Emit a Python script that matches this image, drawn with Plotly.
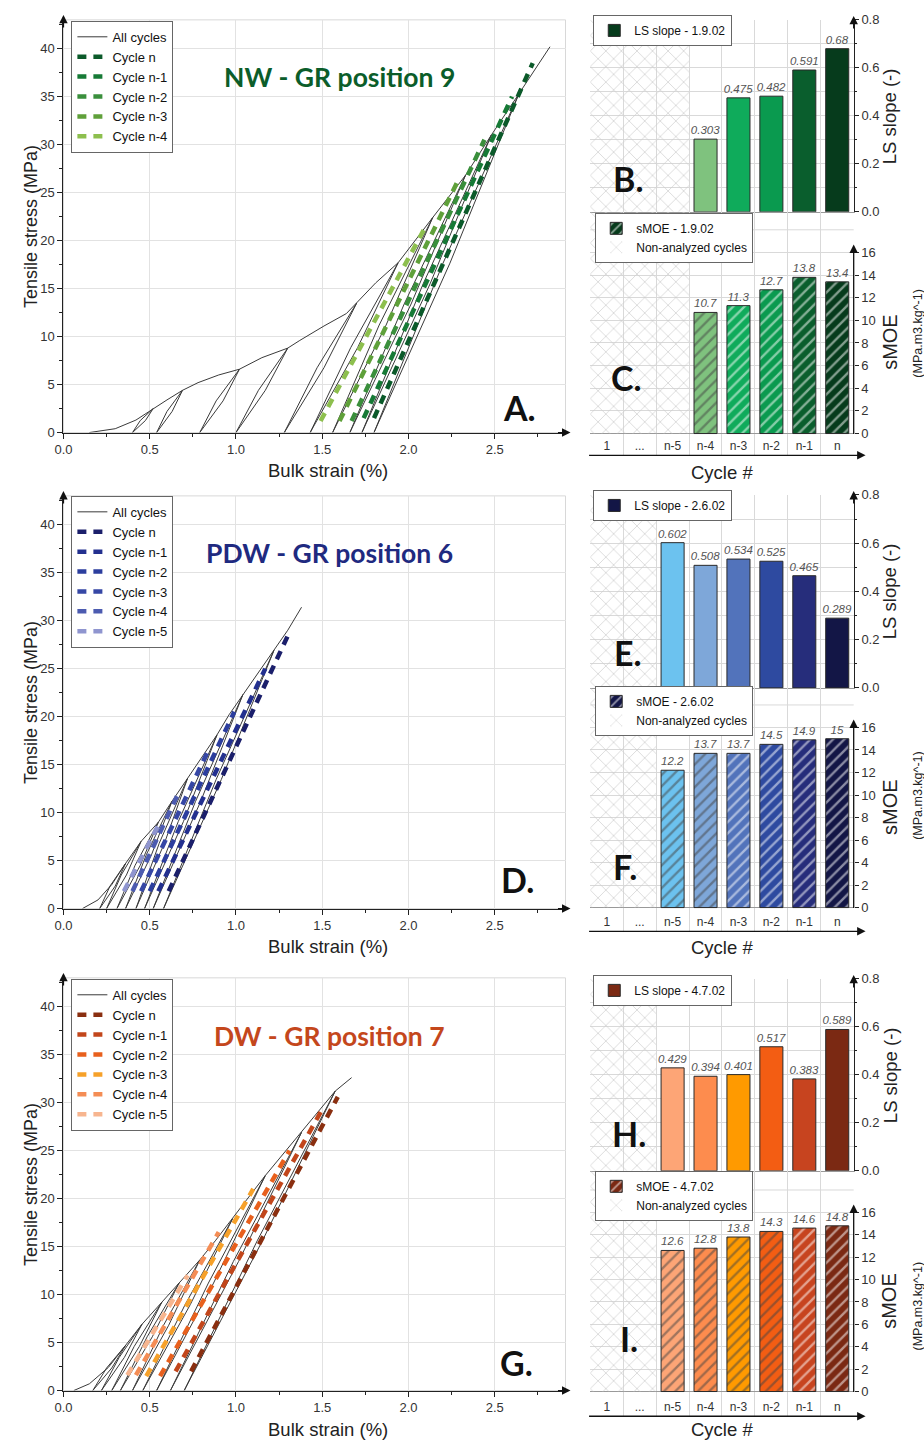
import plotly.graph_objects as go

W, H = 924, 1449
FONT = "Liberation Sans, Arial, Helvetica, sans-serif"
TITLE_FONT = "Lato, Open Sans, sans-serif"


def fx(p):
    return p / W


def fy(p):
    return 1 - p / H


# ---------------------------------------------------------------- data
cycle_labels = ["1", "...", "n-5", "n-4", "n-3", "n-2", "n-1", "n"]
fit_names = ["Cycle n", "Cycle n-1", "Cycle n-2", "Cycle n-3", "Cycle n-4", "Cycle n-5"]

# ---- NW - GR position 9 (panels A, B, C)
nw_env_x = [0.15, 0.30, 0.42, 0.52, 0.60, 0.69, 0.78, 0.90, 1.02, 1.15, 1.30, 1.37, 1.51, 1.64,
            1.70, 1.81, 1.94, 2.04, 2.14, 2.33, 2.48, 2.64, 2.82]
nw_env_y = [0.0, 0.4, 1.3, 2.5, 3.4, 4.4, 5.2, 6.0, 6.6, 7.8, 8.8, 9.6, 11.1, 12.4,
            13.5, 15.6, 17.7, 20.0, 22.4, 26.8, 31.0, 35.3, 40.2]
nw_peak_x = [0.52, 0.69, 1.02, 1.30, 1.70, 1.94, 2.14, 2.33, 2.48, 2.64]
nw_peak_y = [2.5, 4.4, 6.6, 8.8, 13.5, 17.7, 22.4, 26.8, 31.0, 35.3]
nw_resid_x = [0.40, 0.54, 0.79, 1.00, 1.28, 1.43, 1.56, 1.66, 1.73, 1.80]
nw_unload_mid_x = [0.445, 0.60, 0.885, 1.13, 1.47, 1.665, 1.83, 1.975, 2.085, 2.20]
nw_reload_mid_x = [0.475, 0.63, 0.925, 1.17, 1.51, 1.705, 1.87, 2.015, 2.125, 2.24]
nw_fit_x0 = [1.80, 1.74, 1.67, 1.60, 1.49]          # cycle n first
nw_fit_y0 = [1.5, 1.5, 1.2, 1.2, 1.2]
nw_fit_x1 = [2.72, 2.60, 2.44, 2.28, 2.10]
nw_fit_y1 = [38.5, 35.0, 30.5, 26.0, 21.5]
nw_bar_cycles = ["n", "n-1", "n-2", "n-3", "n-4"]
nw_ls_slope = [0.68, 0.591, 0.482, 0.475, 0.303]
nw_smoe = [13.4, 13.8, 12.7, 11.3, 10.7]
nw_non_analyzed = ["1", "...", "n-5"]

# ---- PDW - GR position 6 (panels D, E, F)
pdw_env_x = [0.11, 0.20, 0.28, 0.36, 0.45, 0.55, 0.63, 0.72, 0.80, 0.89, 0.96, 1.04, 1.13, 1.22, 1.30, 1.38]
pdw_env_y = [0.0, 0.9, 2.5, 4.7, 7.0, 9.0, 11.2, 13.6, 15.7, 18.1, 20.2, 22.3, 24.6, 26.9, 29.0, 31.4]
pdw_peak_x = [0.36, 0.45, 0.55, 0.63, 0.72, 0.89, 1.04, 1.22]
pdw_peak_y = [4.7, 7.0, 9.0, 11.2, 13.6, 18.1, 22.3, 26.9]
pdw_resid_x = [0.21, 0.25, 0.31, 0.36, 0.42, 0.47, 0.52, 0.58]
pdw_unload_mid_x = [0.27, 0.335, 0.415, 0.48, 0.555, 0.665, 0.765, 0.885]
pdw_reload_mid_x = [0.30, 0.365, 0.445, 0.51, 0.585, 0.695, 0.795, 0.915]
pdw_fit_x0 = [0.61, 0.55, 0.50, 0.45, 0.40, 0.35]
pdw_fit_y0 = [1.8, 1.8, 1.8, 1.8, 1.8, 1.8]
pdw_fit_x1 = [1.31, 1.17, 0.99, 0.84, 0.66, 0.56]
pdw_fit_y1 = [28.8, 25.0, 20.5, 16.5, 11.8, 9.0]
pdw_bar_cycles = ["n", "n-1", "n-2", "n-3", "n-4", "n-5"]
pdw_ls_slope = [0.289, 0.465, 0.525, 0.534, 0.508, 0.602]
pdw_smoe = [15, 14.9, 14.5, 13.7, 13.7, 12.2]
pdw_non_analyzed = ["1", "..."]

# ---- DW - GR position 7 (panels G, H, I)
dw_env_x = [0.06, 0.15, 0.26, 0.36, 0.455, 0.57, 0.67, 0.79, 0.88, 0.98, 1.08, 1.17, 1.28, 1.38, 1.48, 1.575, 1.67]
dw_env_y = [0.0, 0.7, 2.4, 4.7, 6.9, 9.2, 11.2, 13.6, 15.6, 17.9, 20.3, 22.4, 24.8, 26.9, 29.2, 31.2, 32.6]
dw_peak_x = [0.36, 0.455, 0.57, 0.67, 0.79, 0.98, 1.17, 1.38, 1.575]
dw_peak_y = [4.7, 6.9, 9.2, 11.2, 13.6, 17.9, 22.4, 26.9, 31.2]
dw_resid_x = [0.17, 0.22, 0.28, 0.33, 0.40, 0.46, 0.54, 0.62, 0.70]
dw_unload_mid_x = [0.25, 0.323, 0.41, 0.485, 0.58, 0.705, 0.84, 0.985, 1.123]
dw_reload_mid_x = [0.28, 0.353, 0.44, 0.515, 0.61, 0.735, 0.87, 1.015, 1.153]
dw_fit_x0 = [0.74, 0.65, 0.56, 0.48, 0.42, 0.37]
dw_fit_y0 = [2.0, 2.0, 1.5, 1.5, 1.6, 1.6]
dw_fit_x1 = [1.59, 1.50, 1.31, 1.10, 0.90, 0.72]
dw_fit_y1 = [30.6, 29.3, 25.0, 21.0, 16.5, 12.0]
dw_bar_cycles = ["n", "n-1", "n-2", "n-3", "n-4", "n-5"]
dw_ls_slope = [0.589, 0.383, 0.517, 0.401, 0.394, 0.429]
dw_smoe = [14.8, 14.6, 14.3, 13.8, 12.8, 12.6]
dw_non_analyzed = ["1", "..."]

# ---------------------------------------------------------------- styles / layout (pixels)
groups = [
    dict(env_x=nw_env_x, env_y=nw_env_y, peak_x=nw_peak_x, peak_y=nw_peak_y, resid_x=nw_resid_x,
         umid=nw_unload_mid_x, rmid=nw_reload_mid_x,
         fx0=nw_fit_x0, fy0=nw_fit_y0, fx1=nw_fit_x1, fy1=nw_fit_y1,
         fit_colors=["#0b5a2a", "#167a36", "#3a8f3c", "#5fa03a", "#8dbf4e"],
         bar_cycles=nw_bar_cycles, ls=nw_ls_slope, smoe=nw_smoe, non=nw_non_analyzed,
         bar_colors=["#063b1c", "#0a5e2d", "#0a9a4f", "#0fab5b", "#7fc27e"],
         title="NW - GR position 9", title_color="#0b5d2a", sample="1.9.02",
         letters=["A.", "B.", "C."],
         left_top=13, left_bot=430, r1_top=13, r1_bot=207, r2_zero=431, r2_16=248, r2_bot=453,
         title_xy=(334, 71), letter_xy=[(516, 405), (625, 173), (624, 374)],
         cyc_y=470, strain_y=468, ls_y=110, smoe_y=338, unit_y=330,
         legL=(63, 14), legR1=(590, 8), legR2=(592, 208)),
    dict(env_x=pdw_env_x, env_y=pdw_env_y, peak_x=pdw_peak_x, peak_y=pdw_peak_y, resid_x=pdw_resid_x,
         umid=pdw_unload_mid_x, rmid=pdw_reload_mid_x,
         fx0=pdw_fit_x0, fy0=pdw_fit_y0, fx1=pdw_fit_x1, fy1=pdw_fit_y1,
         fit_colors=["#1b1f6b", "#23308f", "#2c3e9e", "#3647a5", "#4c5bb0", "#8f95cf"],
         bar_cycles=pdw_bar_cycles, ls=pdw_ls_slope, smoe=pdw_smoe, non=pdw_non_analyzed,
         bar_colors=["#131646", "#262d7b", "#2e4aa0", "#5273bb", "#7ea7d9", "#6cc2ef"],
         title="PDW - GR position 6", title_color="#1f2a80", sample="2.6.02",
         letters=["D.", "E.", "F."],
         left_top=494, left_bot=911, r1_top=493, r1_bot=688, r2_zero=910, r2_16=728, r2_bot=934,
         title_xy=(324, 552), letter_xy=[(513, 882), (625, 652), (622, 868)],
         cyc_y=950, strain_y=949, ls_y=590, smoe_y=808, unit_y=797,
         legL=(63, 494), legR1=(590, 488), legR2=(592, 686)),
    dict(env_x=dw_env_x, env_y=dw_env_y, peak_x=dw_peak_x, peak_y=dw_peak_y, resid_x=dw_resid_x,
         umid=dw_unload_mid_x, rmid=dw_reload_mid_x,
         fx0=dw_fit_x0, fy0=dw_fit_y0, fx1=dw_fit_x1, fy1=dw_fit_y1,
         fit_colors=["#8a2f10", "#c2461b", "#e8601d", "#f6a12a", "#f48d55", "#f7b58f"],
         bar_cycles=dw_bar_cycles, ls=dw_ls_slope, smoe=dw_smoe, non=dw_non_analyzed,
         bar_colors=["#7b2913", "#c7441f", "#f35d13", "#ff9a00", "#fd8c4e", "#fda576"],
         title="DW - GR position 7", title_color="#c4471c", sample="4.7.02",
         letters=["G.", "H.", "I."],
         left_top=981, left_bot=1398, r1_top=982, r1_bot=1176, r2_zero=1399, r2_16=1218, r2_bot=1424,
         title_xy=(324, 1040), letter_xy=[(512, 1370), (626, 1138), (626, 1345)],
         cyc_y=1437, strain_y=1437, ls_y=1079, smoe_y=1307, unit_y=1313,
         legL=(63, 982), legR1=(590, 978), legR2=(592, 1176)),
]

LEFT_X0, LEFT_X1 = 55, 562
RIGHT_X0, RIGHT_X1 = 587, 853
GRID = "#e2e2e2"
RGRID = "#d9d9d9"
HATCH = dict(shape="x", fgcolor="#cdcdcd", size=11, solidity=0.12, fillmode="replace")

fig = go.Figure()
layout = dict(width=W, height=H, margin=dict(l=0, r=0, t=0, b=0),
              paper_bgcolor="white", plot_bgcolor="white", barmode="overlay",
              hovermode=False, font=dict(family=FONT, size=12, color="#222"))
annotations = []
shapes = []


def ax_names(k):
    s = "" if k == 1 else str(k)
    return "x" + s, "y" + s, "xaxis" + s, "yaxis" + s, ("legend" if k == 1 else "legend" + s)


def text(t, x, y, size, color="#222", angle=0, family=FONT):
    annotations.append(dict(text=t, x=fx(x), y=fy(y), xref="paper", yref="paper", showarrow=False,
                            textangle=angle, xanchor="center", yanchor="middle",
                            font=dict(family=family, size=size, color=color)))


def arrow(x, y, ax, ay):
    annotations.append(dict(text="", x=fx(x), y=fy(y), xref="paper", yref="paper", showarrow=True,
                            ax=ax, ay=ay, axref="pixel", ayref="pixel", arrowhead=2,
                            arrowsize=1.3, arrowwidth=1.3, arrowcolor="#111"))


def legend_cfg(p, size):
    return dict(x=fx(p[0]), y=fy(p[1]), xanchor="left", yanchor="top", bgcolor="white",
                bordercolor="#666", borderwidth=1, tracegroupgap=0,
                font=dict(family=FONT, size=size, color="#111"))


tickfont = dict(family=FONT, size=13, color="#333")
barfont = dict(family=FONT, size=11.5, color="#555", style="italic")

for gi, g in enumerate(groups):
    kL, kB, kC = 3 * gi + 1, 3 * gi + 2, 3 * gi + 3
    xL, yL, xaL, yaL, legL = ax_names(kL)
    xB, yB, xaB, yaB, legB = ax_names(kB)
    xC, yC, xaC, yaC, legC = ax_names(kC)

    # ---------- left: stress-strain curves
    fig.add_trace(go.Scatter(x=g["env_x"], y=g["env_y"], mode="lines", name="All cycles",
                             line=dict(color="#3a3a3a", width=1), xaxis=xL, yaxis=yL, legend=legL))
    for j in range(len(g["peak_x"])):
        px, py = g["peak_x"][j], g["peak_y"][j]
        fig.add_trace(go.Scatter(x=[px, g["umid"][j], g["resid_x"][j], g["rmid"][j], px],
                                 y=[py, 0.5 * py, 0, 0.5 * py, py], mode="lines", showlegend=False,
                                 line=dict(color="#3a3a3a", width=1), xaxis=xL, yaxis=yL))
    for j in range(len(g["fx0"])):
        fig.add_trace(go.Scatter(x=[g["fx0"][j], g["fx1"][j]], y=[g["fy0"][j], g["fy1"][j]],
                                 mode="lines", name=fit_names[j],
                                 line=dict(color=g["fit_colors"][j], width=4.5, dash="9px,7px"),
                                 xaxis=xL, yaxis=yL, legend=legL))

    layout[xaL] = dict(domain=[fx(LEFT_X0), fx(LEFT_X1)], anchor=yL, range=[0, 2.91],
                       tick0=0, dtick=0.5, tickformat=".1f", ticks="outside", ticklen=5,
                       tickcolor="#222", tickfont=tickfont, showgrid=True, gridcolor=GRID,
                       zeroline=False, showline=True, linecolor="#222", linewidth=1.2,
                       minor=dict(dtick=0.25, ticks="outside", ticklen=3, tickcolor="#222", showgrid=False))
    layout[yaL] = dict(domain=[fy(g["left_bot"]), fy(g["left_top"])], anchor=xL, range=[0, 43],
                       tick0=0, dtick=5, ticks="outside", ticklen=5, tickcolor="#222",
                       tickfont=tickfont, showgrid=True, gridcolor=GRID, zeroline=False,
                       showline=True, linecolor="#222", linewidth=1.2,
                       minor=dict(dtick=2.5, ticks="outside", ticklen=3, tickcolor="#222", showgrid=False))
    layout[legL] = legend_cfg(g["legL"], 13)
    shapes.append(dict(type="rect", xref=xL + " domain", yref=yL + " domain", x0=0, x1=1, y0=0, y1=1,
                       line=dict(color="#d8d8d8", width=1), layer="below"))
    arrow(LEFT_X1 + 5, g["left_bot"], -14, 0)
    arrow(LEFT_X0, g["left_top"] - 5, 0, 14)

    # ---------- right top: LS slope
    bar_idx = [cycle_labels.index(c) for c in g["bar_cycles"]]
    non_idx = [cycle_labels.index(c) for c in g["non"]]
    fig.add_trace(go.Bar(x=non_idx, y=[0.8] * len(non_idx), width=1, showlegend=False,
                         marker=dict(color="rgba(0,0,0,0)", line=dict(width=0), pattern=HATCH),
                         xaxis=xB, yaxis=yB))
    fig.add_trace(go.Bar(x=bar_idx, y=g["ls"], width=0.7, name="LS slope - " + g["sample"],
                         marker=dict(color=g["bar_colors"], line=dict(color="#2a2a2a", width=1)),
                         text=[f"{v:g}" for v in g["ls"]], textposition="outside", cliponaxis=False,
                         constraintext="none", textfont=barfont,
                         xaxis=xB, yaxis=yB, legend=legB))
    layout[xaB] = dict(domain=[fx(RIGHT_X0), fx(RIGHT_X1)], anchor=yB, range=[-0.5, 7.5],
                       tickvals=list(range(len(cycle_labels))), ticktext=cycle_labels,
                       showticklabels=False, ticks="", showgrid=False, zeroline=False,
                       showline=True, linecolor="#999", linewidth=1,
                       minor=dict(tick0=-0.5, dtick=1, showgrid=True, gridcolor=RGRID, ticks=""))
    layout[yaB] = dict(domain=[fy(g["r1_bot"]), fy(g["r1_top"])], anchor=xB, side="right",
                       range=[0, 0.8], tick0=0, dtick=0.2, tickformat=".1f", ticks="outside",
                       ticklen=4, tickcolor="#222", tickfont=tickfont, showgrid=True, gridcolor=RGRID,
                       zeroline=False, showline=True, linecolor="#222", linewidth=1.2,
                       minor=dict(dtick=0.1, showgrid=True, gridcolor=RGRID, ticks="outside",
                                  ticklen=2, tickcolor="#222"))
    layout[legB] = legend_cfg(g["legR1"], 12)
    arrow(RIGHT_X1, g["r1_top"] - 4, 0, 14)

    # ---------- right bottom: sMOE
    ppu = (g["r2_zero"] - g["r2_16"]) / 16.0
    c_lo = -(g["r2_bot"] - g["r2_zero"]) / ppu
    c_hi = (g["r2_zero"] - g["r1_bot"]) / ppu
    fig.add_trace(go.Bar(x=bar_idx, y=g["smoe"], width=0.7, name="sMOE - " + g["sample"],
                         marker=dict(color=g["bar_colors"], line=dict(color="#2a2a2a", width=1),
                                     pattern=dict(shape="/", fgcolor="white", size=8, solidity=0.3,
                                                  fillmode="overlay")),
                         text=[f"{v:g}" for v in g["smoe"]], textposition="outside", cliponaxis=False,
                         constraintext="none", textfont=barfont,
                         xaxis=xC, yaxis=yC, legend=legC, legendrank=1))
    fig.add_trace(go.Bar(x=non_idx, y=[c_hi] * len(non_idx), width=1, name="Non-analyzed cycles",
                         marker=dict(color="rgba(0,0,0,0)", line=dict(width=0), pattern=HATCH),
                         xaxis=xC, yaxis=yC, legend=legC, legendrank=2))
    layout[xaC] = dict(domain=[fx(RIGHT_X0), fx(RIGHT_X1)], anchor=yC, range=[-0.5, 7.5],
                       tickvals=list(range(len(cycle_labels))), ticktext=cycle_labels,
                       ticklabelposition="inside", ticks="", tickfont=dict(family=FONT, size=12, color="#333"),
                       showgrid=False, zeroline=False, showline=False,
                       minor=dict(tick0=-0.5, dtick=1, showgrid=True, gridcolor=RGRID, ticks=""))
    layout[yaC] = dict(domain=[fy(g["r2_bot"]), fy(g["r1_bot"])], anchor=xC, side="right",
                       range=[c_lo, c_hi], tickvals=list(range(0, 17, 2)), ticks="outside",
                       ticklen=4, tickcolor="#222", tickfont=tickfont, showgrid=True, gridcolor=RGRID,
                       zeroline=True, zerolinecolor="#999", zerolinewidth=1, showline=False)
    layout[legC] = legend_cfg(g["legR2"], 12)
    shapes.append(dict(type="line", xref=xC + " domain", yref=yC, x0=0, x1=1, y0=18, y1=18,
                       line=dict(color=RGRID, width=1), layer="below"))
    arrow(RIGHT_X1, g["r2_16"] - 8, 0, g["r2_zero"] - g["r2_16"] + 8)
    arrow(RIGHT_X1 + 12, g["r2_bot"], -(RIGHT_X1 + 12 - RIGHT_X0), 0)

    # ---------- texts
    text("Tensile stress (MPa)", 22, (g["left_top"] + g["left_bot"]) / 2, 18, angle=-90)
    text("Bulk strain (%)", 322, g["strain_y"], 18.5)
    text("Cycle #", 720, g["cyc_y"], 18.5)
    text("LS slope (-)", 890, g["ls_y"], 18.5, angle=-90)
    text("sMOE", 889, g["smoe_y"], 20, angle=-90)
    text("(MPa.m3.kg^-1)", 918, g["unit_y"], 12.5, angle=-90)
    text("<b>" + g["title"] + "</b>", g["title_xy"][0], g["title_xy"][1], 26.5,
         color=g["title_color"], family=TITLE_FONT)
    for lt, (lx, ly) in zip(g["letters"], g["letter_xy"]):
        text("<b>" + lt + "</b>", lx, ly, 34, color="#111", family=TITLE_FONT)

layout["annotations"] = annotations
layout["shapes"] = shapes
fig.update_layout(**layout)
fig.write_html("out.html")
